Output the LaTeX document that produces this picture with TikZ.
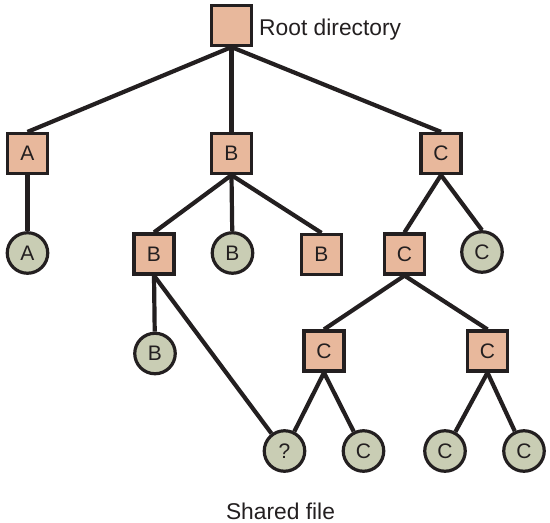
\documentclass[tikz,border=0pt]{standalone}
\usepackage{fontspec}
\setmainfont{Liberation Sans}
\usetikzlibrary{backgrounds}
\definecolor{boxfill}{HTML}{E8B89C}
\definecolor{circfill}{HTML}{C9CDB4}
\definecolor{ink}{HTML}{231F20}
\begin{document}
\begin{tikzpicture}[x=1pt,y=-1pt,
  dirbox/.style={draw=ink,fill=boxfill,line width=3.2pt,minimum size=40pt,inner sep=0pt,font=\fontsize{21}{25}\selectfont,text=ink},
  filecirc/.style={draw=ink,fill=circfill,circle,line width=3.2pt,minimum size=40.5pt,inner sep=0pt,font=\fontsize{21}{25}\selectfont,text=ink},
  link/.style={draw=ink,line width=4.2pt},
  label/.style={font=\fontsize{22.8}{27}\selectfont,text=ink,inner sep=0pt}]
\useasboundingbox (0,0) rectangle (550,523);
% directories
\node[dirbox] (root) at (231.5,25.5) {};
\node[label,anchor=base west] (rootlabel) at (259,35) {Root directory};
\node[dirbox] (A1) at (27.5,153.5) {A};
\node[dirbox] (B1) at (231.5,153.5) {B};
\node[dirbox] (C1) at (441,153.5) {C};
\node[filecirc] (Af) at (27.5,253) {A};
\node[dirbox] (B2) at (154,254) {B};
\node[filecirc] (Bf) at (232.5,253) {B};
\node[dirbox] (B3) at (321.5,254.5) {B};
\node[dirbox] (C2) at (404.5,254) {C};
\node[filecirc] (Cf) at (482,252) {C};
\node[filecirc] (Bf2) at (155,353.5) {B};
\node[dirbox] (C3) at (324,351) {C};
\node[dirbox] (C4) at (487.5,351) {C};
\node[filecirc] (Q) at (284.5,451) {?};
\node[filecirc] (Cf2) at (363.5,451) {C};
\node[filecirc] (Cf3) at (445,451) {C};
\node[filecirc] (Cf4) at (524,451) {C};
\node[label,anchor=base] (shared) at (280.5,519) {Shared file};
\begin{scope}[on background layer]
\draw[link] (root.south) -- (A1.north);
\draw[link] (root.south) -- (B1.north);
\draw[link] (root.south) -- (C1.north);
\draw[link] (A1.south) -- (Af);
\draw[link] (B1.south) -- (B2.north);
\draw[link] (B1.south) -- (Bf);
\draw[link] (B1.south) -- (B3.north);
\draw[link] (C1.south) -- (C2.north);
\draw[link] (C1.south) -- (Cf.north);
\draw[link] (B2.south) -- (Bf2);
\draw[link] (B2.south) -- (Q);
\draw[link] (C2.south) -- (C3.north);
\draw[link] (C2.south) -- (C4.north);
\draw[link] (C3.south) -- (Q);
\draw[link] (C3.south) -- (Cf2);
\draw[link] (C4.south) -- (Cf3);
\draw[link] (C4.south) -- (Cf4);
\end{scope}
\end{tikzpicture}
\end{document}
